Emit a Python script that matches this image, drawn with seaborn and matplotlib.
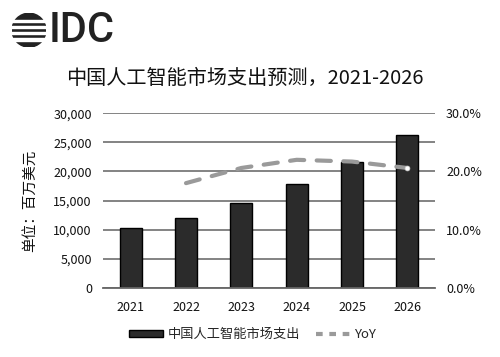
import numpy as np
import pandas as pd
import matplotlib
matplotlib.use("Agg")
import matplotlib.pyplot as plt
import matplotlib.patches as mpatches
from matplotlib.lines import Line2D
import seaborn as sns

years = ["2021", "2022", "2023", "2024", "2025", "2026"]
spend = [10300, 12100, 14600, 17900, 21700, 26300]
yoy_years = ["2022", "2023", "2024", "2025", "2026"]
yoy = [18.0, 20.6, 22.0, 21.7, 20.6]
left_ticks = [0, 5000, 10000, 15000, 20000, 25000, 30000]
right_ticks = [0, 10, 20, 30]

title = "中国人工智能市场支出预测，2021-2026"
ylabel = "单位：百万美元"
bar_label = "中国人工智能市场支出"
line_label = "YoY"

sns.set_theme(style="white")
plt.rcParams['font.family'] = ['Noto Sans CJK SC', 'DejaVu Sans']

DASH = (0, (3.4, 3.0))

fig = plt.figure(figsize=(5, 3.57), dpi=100)
ax = fig.add_axes([0.206, 0.193, 0.664, 0.49])

df = pd.DataFrame({"year": years, "spend": spend})
sns.barplot(data=df, x="year", y="spend", ax=ax, color="#2b2b2b",
            edgecolor="black", linewidth=1, width=0.4, saturation=1)
ax.set_ylim(0, 30000)
ax.set_yticks(left_ticks)
ax.set_yticklabels([f"{v:,}" for v in left_ticks], fontsize=9, color="#111")
ax.yaxis.grid(True, color="#7a7a7a", linewidth=1.3)
ax.set_axisbelow(True)
ax.set_xlabel("")
ax.set_ylabel(ylabel, fontsize=10.5, labelpad=12, color="#111")
ax.tick_params(axis="x", labelsize=9, colors="#111", length=0, pad=9)
ax.tick_params(axis="y", length=0, pad=8)
for s in ["top", "right", "left"]:
    ax.spines[s].set_visible(False)
ax.spines["bottom"].set_color("#666")
ax.spines["bottom"].set_linewidth(1.3)
ax.set_xlim(-0.5, 5.5)

ax2 = ax.twinx()
pos = [years.index(y) for y in yoy_years]
ldf = pd.DataFrame({"pos": pos, "yoy": yoy})
sns.lineplot(data=ldf, x="pos", y="yoy", ax=ax2, color="#9a9a9a",
             linewidth=3, linestyle=DASH, dash_capstyle="round")
ax2.plot([pos[-1]], [yoy[-1]], marker="o", markersize=3.5, color="white",
         markeredgecolor="#ccc", markeredgewidth=0.5, linestyle="none")
ax2.set_ylim(0, 30)
ax2.set_yticks(right_ticks)
ax2.set_yticklabels([f"{v:.1f}%" for v in right_ticks], fontsize=9, color="#111")
ax2.set_ylabel("")
ax2.tick_params(axis="y", length=0, pad=8)
for s in ["top", "right", "left", "bottom"]:
    ax2.spines[s].set_visible(False)
ax2.set_xlim(-0.5, 5.5)

fig.text(0.49, 0.78, title, ha="center", va="center", fontsize=14.5, color="#111")

handles = [mpatches.Patch(facecolor="#2b2b2b", edgecolor="black"),
           Line2D([0], [0], color="#9a9a9a", linewidth=3, linestyle=(0, (1.6, 1.6)))]
fig.legend(handles, [bar_label, line_label], loc="center", bbox_to_anchor=(0.505, 0.062),
           ncol=2, frameon=False, fontsize=9.5, handlelength=2.6, handleheight=0.45,
           columnspacing=1.2, handletextpad=0.3)

# IDC logo
logo_ax = fig.add_axes([0.024, 0.868, 0.068, 0.095])
logo_ax.set_xlim(-1, 1)
logo_ax.set_ylim(-1, 1)
logo_ax.set_aspect("equal")
logo_ax.axis("off")
logo_ax.add_patch(mpatches.Circle((0, 0), 1, color="#222"))
for yy in [-0.55, -0.18, 0.18, 0.55]:
    logo_ax.add_patch(mpatches.Rectangle((-1.1, yy - 0.075), 2.2, 0.15, color="white"))
fig.text(0.098, 0.915, "IDC", fontsize=30, color="#222", fontweight="medium",
         va="center", ha="left", family="Roboto")

fig.savefig("out.png", dpi=100)
